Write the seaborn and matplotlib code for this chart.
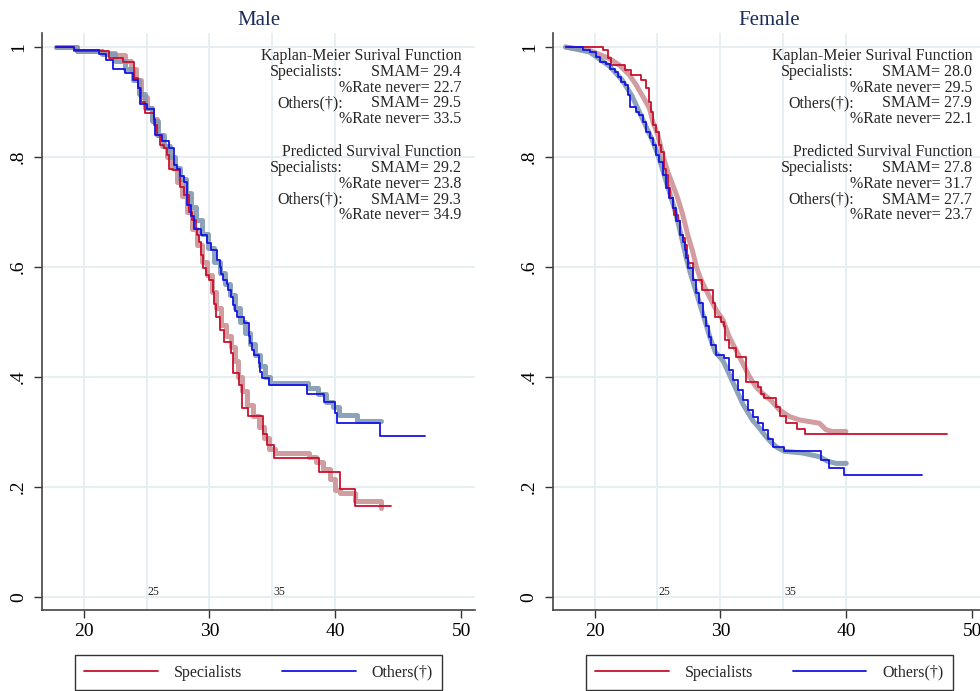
import matplotlib
matplotlib.use('Agg')
import matplotlib.pyplot as plt
from matplotlib.lines import Line2D
import seaborn as sns
import pandas as pd

sns.set_theme(style='white')
plt.rcParams['font.family'] = ['Liberation Serif', 'DejaVu Serif']

# ---- Male: Kaplan-Meier (step points: age, survival) ----
m_km_spec_age = [17.8, 19.2, 22.0, 23.1, 24.0, 24.3, 24.6, 24.9, 25.6, 25.85, 26.1, 26.4, 26.6,
                 26.8, 27.1, 27.7, 28.0, 28.4, 28.6, 28.9, 29.0, 29.15, 29.3, 29.45, 29.75, 30.0,
                 30.25, 30.4, 30.55, 30.8, 31.15, 31.7, 31.85, 32.35, 32.6, 33.1, 34.25, 34.6,
                 35.1, 38.7, 40.4, 41.6, 44.4]
m_km_spec_surv = [1.0, 0.993, 0.981, 0.972, 0.943, 0.925, 0.901, 0.881, 0.858, 0.840, 0.822, 0.816,
                  0.804, 0.779, 0.776, 0.746, 0.731, 0.700, 0.685, 0.670, 0.658, 0.646, 0.622, 0.598,
                  0.585, 0.576, 0.555, 0.532, 0.510, 0.485, 0.464, 0.443, 0.407, 0.385, 0.343, 0.329,
                  0.297, 0.276, 0.253, 0.227, 0.196, 0.165, 0.165]
m_km_oth_age = [17.8, 19.2, 21.2, 21.8, 22.3, 23.3, 23.9, 24.3, 24.5, 25.05, 25.6, 25.7, 26.24,
                26.77, 27.17, 27.4, 27.7, 27.96, 28.23, 28.5, 28.8, 29.3, 29.8, 30.1, 30.6, 30.8,
                30.95, 31.1, 31.4, 31.5, 31.7, 31.9, 32.05, 32.2, 32.73, 33.12, 33.25, 33.4, 33.52,
                33.91, 34.05, 34.18, 34.71, 37.75, 39.13, 40.0, 40.14, 43.57, 47.1]
m_km_oth_surv = [1.0, 0.995, 0.987, 0.976, 0.961, 0.952, 0.940, 0.925, 0.897, 0.888, 0.870, 0.840,
                 0.829, 0.816, 0.785, 0.779, 0.765, 0.755, 0.713, 0.692, 0.670, 0.658, 0.643, 0.631,
                 0.612, 0.600, 0.588, 0.576, 0.570, 0.558, 0.546, 0.531, 0.520, 0.509, 0.498, 0.474,
                 0.461, 0.449, 0.440, 0.425, 0.410, 0.398, 0.385, 0.370, 0.354, 0.334, 0.316, 0.292,
                 0.292]

# ---- Male: predicted ----
m_pr_spec_age = [17.8, 19.5, 21.5, 22.5, 23.3, 23.8, 24.2, 24.6, 25.0, 25.4, 25.8, 26.2, 26.6,
                 27.0, 27.4, 27.8, 28.2, 28.6, 29.0, 29.4, 29.8, 30.2, 30.5, 30.9, 31.3, 31.7,
                 32.0, 32.3, 32.6, 33.0, 33.5, 33.9, 34.3, 34.7, 35.2, 37.9, 38.5, 39.0, 39.6,
                 40.0, 40.4, 41.6, 43.6]
m_pr_spec_surv = [1.0, 0.993, 0.990, 0.985, 0.975, 0.960, 0.940, 0.910, 0.890, 0.870, 0.840, 0.820,
                  0.800, 0.780, 0.755, 0.730, 0.700, 0.670, 0.640, 0.610, 0.585, 0.555, 0.525,
                  0.495, 0.475, 0.455, 0.430, 0.400, 0.375, 0.350, 0.330, 0.310, 0.290, 0.270,
                  0.262, 0.255, 0.245, 0.232, 0.215, 0.195, 0.190, 0.175, 0.162]
m_pr_oth_age = [17.8, 19.5, 21.5, 22.5, 23.3, 23.9, 24.4, 24.9, 25.4, 25.9, 26.4, 26.9, 27.3,
                27.7, 28.1, 28.5, 28.9, 29.4, 29.9, 30.4, 30.8, 31.2, 31.6, 32.0, 32.4, 32.8,
                33.2, 33.6, 34.0, 34.4, 34.8, 37.8, 38.6, 39.3, 39.8, 40.3, 41.7, 43.6]
m_pr_oth_surv = [1.0, 0.993, 0.987, 0.975, 0.960, 0.940, 0.915, 0.890, 0.865, 0.840, 0.820, 0.800,
                 0.780, 0.760, 0.735, 0.710, 0.685, 0.660, 0.635, 0.610, 0.590, 0.570, 0.550,
                 0.525, 0.500, 0.480, 0.460, 0.440, 0.420, 0.400, 0.390, 0.380, 0.370, 0.355,
                 0.345, 0.331, 0.320, 0.320]

# ---- Female: Kaplan-Meier ----
f_km_spec_age = [17.7, 20.66, 21.06, 21.32, 22.38, 22.91, 23.7, 24.1, 24.3, 24.45, 24.63, 24.9,
                 25.1, 25.3, 25.5, 25.65, 25.8, 26.0, 26.2, 26.35, 26.6, 26.75, 27.0, 27.2, 27.35,
                 27.45, 27.8, 28.5, 29.4, 29.55, 30.04, 30.3, 30.4, 30.7, 31.2, 32.05, 32.97, 33.2,
                 33.5, 34.42, 34.7, 35.2, 36.1, 36.7, 48.0]
f_km_spec_surv = [1.0, 0.9945, 0.980, 0.967, 0.958, 0.949, 0.940, 0.925, 0.901, 0.882, 0.858,
                  0.846, 0.822, 0.810, 0.779, 0.767, 0.743, 0.725, 0.707, 0.695, 0.683, 0.658,
                  0.652, 0.640, 0.622, 0.607, 0.576, 0.558, 0.534, 0.510, 0.500, 0.492, 0.467,
                  0.452, 0.437, 0.391, 0.382, 0.370, 0.361, 0.345, 0.330, 0.317, 0.305, 0.296,
                  0.296]
f_km_oth_age = [17.7, 19.07, 19.6, 20.13, 20.4, 20.93, 21.19, 21.59, 21.85, 22.12, 22.38, 22.65,
                22.78, 23.31, 23.57, 23.84, 24.1, 24.37, 24.63, 24.9, 25.16, 25.42, 25.69, 25.95,
                26.22, 26.48, 26.75, 27.01, 27.15, 27.28, 27.41, 27.8, 28.07, 28.33, 28.6, 28.86,
                29.13, 29.26, 29.66, 30.3, 30.7, 30.97, 31.37, 31.77, 32.17, 32.57, 32.96, 33.36,
                33.76, 34.15, 35.08, 37.99, 38.6, 39.84, 46.0]
f_km_oth_surv = [1.0, 0.9945, 0.991, 0.982, 0.973, 0.970, 0.961, 0.955, 0.946, 0.937, 0.931,
                 0.913, 0.891, 0.882, 0.876, 0.864, 0.846, 0.834, 0.822, 0.804, 0.791, 0.767,
                 0.743, 0.725, 0.707, 0.683, 0.658, 0.646, 0.631, 0.616, 0.598, 0.576, 0.552,
                 0.534, 0.510, 0.492, 0.473, 0.458, 0.440, 0.434, 0.413, 0.395, 0.376, 0.358,
                 0.340, 0.328, 0.316, 0.304, 0.288, 0.273, 0.265, 0.249, 0.234, 0.221, 0.221]

# ---- Female: predicted ----
f_pr_spec_age = [17.7, 19.6, 21.19, 21.98, 22.78, 23.31, 23.84, 24.37, 24.63, 25.03, 25.42, 25.82,
                 26.22, 26.61, 27.01, 27.41, 27.8, 28.1, 28.4, 28.73, 29.13, 29.66, 30.2, 30.7,
                 31.24, 31.77, 32.3, 32.83, 33.36, 34.0, 34.7, 35.5, 36.3, 37.07, 37.87, 38.4,
                 38.9, 39.97]
f_pr_spec_surv = [1.0, 0.994, 0.979, 0.967, 0.949, 0.931, 0.910, 0.888, 0.864, 0.840, 0.804,
                  0.773, 0.749, 0.725, 0.695, 0.658, 0.628, 0.600, 0.580, 0.564, 0.546, 0.522,
                  0.504, 0.473, 0.449, 0.425, 0.401, 0.382, 0.370, 0.358, 0.340, 0.328, 0.322,
                  0.319, 0.316, 0.304, 0.301, 0.301]
f_pr_oth_age = [17.7, 19.6, 21.2, 22.2, 23.0, 23.6, 24.1, 24.6, 25.1, 25.5, 25.9, 26.3, 26.7,
                27.0, 27.3, 27.6, 28.0, 28.4, 28.8, 29.2, 29.6, 30.2, 30.6, 31.0, 31.4, 31.8,
                32.2, 32.6, 33.0, 33.5, 34.0, 34.5, 35.1, 36.5, 37.9, 38.5, 39.2, 40.0]
f_pr_oth_surv = [1.0, 0.991, 0.965, 0.940, 0.910, 0.880, 0.855, 0.830, 0.800, 0.770, 0.740,
                 0.710, 0.675, 0.645, 0.615, 0.590, 0.560, 0.530, 0.500, 0.470, 0.445, 0.430,
                 0.410, 0.390, 0.370, 0.350, 0.335, 0.320, 0.310, 0.295, 0.282, 0.272, 0.265,
                 0.262, 0.255, 0.247, 0.243, 0.243]

# ---- summary statistics (Specialists, Others) ----
groups = ['Specialists', 'Others(†)']
m_km_smam = [29.4, 29.5]
m_km_never = [22.7, 33.5]
m_pr_smam = [29.2, 29.3]
m_pr_never = [23.8, 34.9]
f_km_smam = [28.0, 27.9]
f_km_never = [29.5, 22.1]
f_pr_smam = [27.8, 27.7]
f_pr_never = [31.7, 23.7]

panel_titles = ['Male', 'Female']
yticks = [0, 0.2, 0.4, 0.6, 0.8, 1.0]
ytick_labels = ['0', '.2', '.4', '.6', '.8', '1']
xticks = [20, 30, 40, 50]
xgrid = [20, 25, 30, 35, 40]
xmarks = [25, 35]

RED = '#c8102e'
BLUE = '#1414e6'
PINK = '#cc9297'
GREYBLUE = '#8199b3'
GRID = '#e6eef1'

panels = [
    dict(km=[(m_km_spec_age, m_km_spec_surv), (m_km_oth_age, m_km_oth_surv)],
         pr=[(m_pr_spec_age, m_pr_spec_surv), (m_pr_oth_age, m_pr_oth_surv)],
         pr_style='steps-post',
         stats=[(m_km_smam, m_km_never), (m_pr_smam, m_pr_never)]),
    dict(km=[(f_km_spec_age, f_km_spec_surv), (f_km_oth_age, f_km_oth_surv)],
         pr=[(f_pr_spec_age, f_pr_spec_surv), (f_pr_oth_age, f_pr_oth_surv)],
         pr_style='default',
         stats=[(f_km_smam, f_km_never), (f_pr_smam, f_pr_never)]),
]

fig = plt.figure(figsize=(9.8, 6.91), dpi=100)
ax_pos = [[0.0429, 0.1172, 0.4418, 0.835], [0.5643, 0.1172, 0.4418, 0.835]]

for i, p in enumerate(panels):
    ax = fig.add_axes(ax_pos[i])
    ax.set_xlim(16.7, 51.1)
    ax.set_ylim(-0.0236, 1.0255)

    for y in yticks:
        ax.axhline(y, color=GRID, lw=1.3, zorder=0)
    for x in xgrid:
        ax.axvline(x, color=GRID, lw=1.3, zorder=0)

    # predicted survival (thick, faded)
    for (age, surv), col in zip(p['pr'], [PINK, GREYBLUE]):
        df = pd.DataFrame({'age': age, 'surv': surv})
        sns.lineplot(data=df, x='age', y='surv', ax=ax, color=col, lw=3.6, alpha=0.9,
                     drawstyle=p['pr_style'], estimator=None, sort=False, zorder=2)
    # Kaplan-Meier (thin)
    for (age, surv), col in zip(p['km'], [RED, BLUE]):
        df = pd.DataFrame({'age': age, 'surv': surv})
        sns.lineplot(data=df, x='age', y='surv', ax=ax, color=col, lw=1.3,
                     drawstyle='steps-post', estimator=None, sort=False, zorder=3)

    ax.set_xlabel('')
    ax.set_ylabel('')
    ax.set_xticks(xticks)
    ax.set_xticklabels([str(t) for t in xticks])
    ax.set_yticks(yticks)
    ax.set_yticklabels(ytick_labels, rotation=90, va='center')
    ax.tick_params(axis='both', direction='out', length=6, width=1, colors='#333333',
                   labelcolor='black', labelsize=14, left=True, bottom=True)
    ax.tick_params(axis='y', pad=5)
    sns.despine(ax=ax)
    for s in ['left', 'bottom']:
        ax.spines[s].set_color('#444444')
        ax.spines[s].set_linewidth(1.2)

    for xm in xmarks:
        ax.text(xm + 0.05, 0.009, str(xm), fontsize=8.5, ha='left', va='center')

    ax.set_title(panel_titles[i], fontsize=15, color='#1c2d5c', pad=6)

    # annotation blocks
    headers = ['Kaplan-Meier Surival Function', 'Predicted Survival Function']
    block_top = [0.984, 0.809]
    step = 0.0288
    for b, (smam, never) in enumerate(p['stats']):
        y0 = block_top[b]
        ax.text(50.0, y0, headers[b], ha='right', va='center', fontsize=11.5)
        for g in range(2):
            yg = y0 - step * (1 + 2 * g)
            ax.text(40.6, yg, groups[g] + ':', ha='right', va='center', fontsize=11.5)
            ax.text(50.0, yg, f'SMAM= {smam[g]:.1f}', ha='right', va='center', fontsize=11.5)
            ax.text(50.0, yg - step, f'%Rate never= {never[g]:.1f}', ha='right', va='center',
                    fontsize=11.5)

    handles = [Line2D([], [], color=RED, lw=1.3), Line2D([], [], color=BLUE, lw=1.3)]
    leg = ax.legend(handles, groups, loc='upper center', bbox_to_anchor=(0.5, -0.078),
                    ncol=2, frameon=True, fancybox=False, edgecolor='black', fontsize=11.5,
                    handlelength=4.6, handletextpad=1.0, columnspacing=2.5, borderpad=0.6,
                    borderaxespad=0)
    leg.get_frame().set_linewidth(1.0)

fig.savefig('out.png', dpi=100)
